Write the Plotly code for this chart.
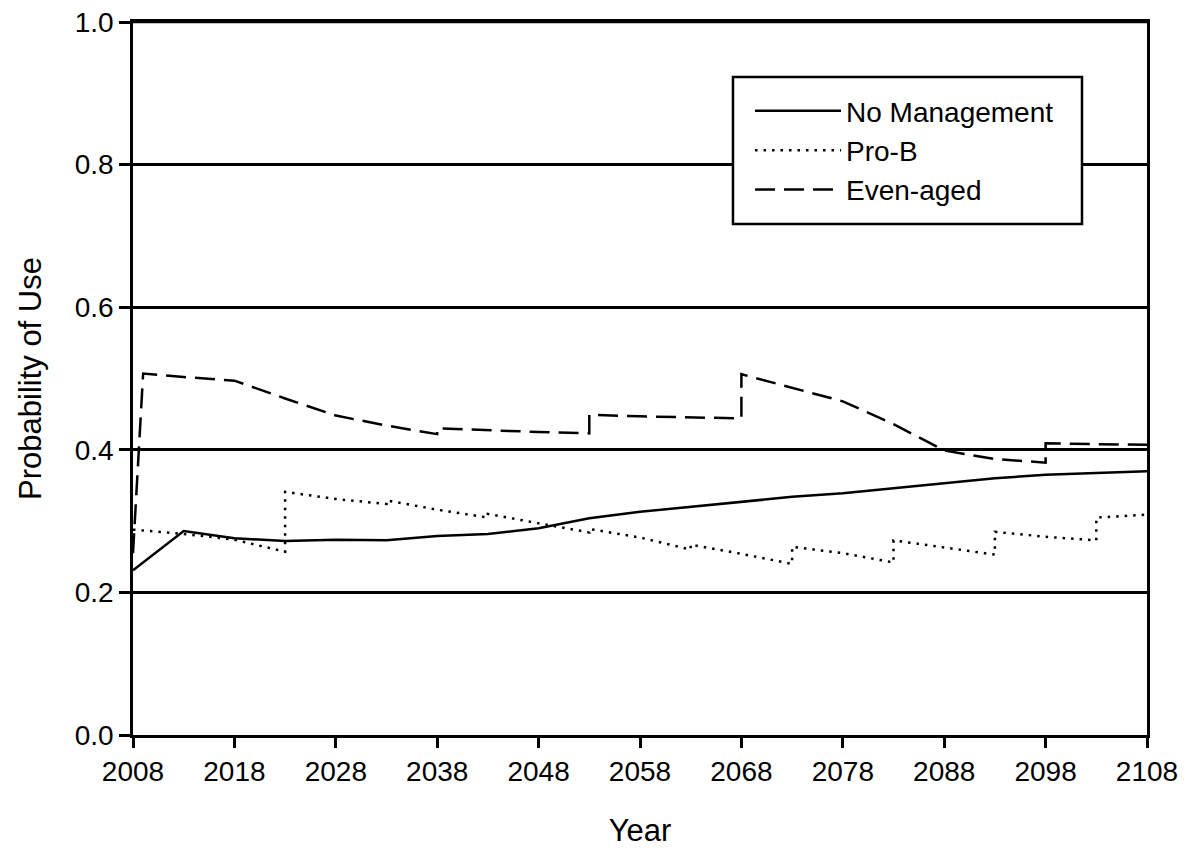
import plotly.graph_objects as go

# --- data ---
nm_years = [2008, 2013, 2018, 2023, 2028, 2033, 2038, 2043, 2048, 2053, 2058,
            2063, 2068, 2073, 2078, 2083, 2088, 2093, 2098, 2103, 2108]
nm_vals = [0.231, 0.286, 0.276, 0.272, 0.274, 0.273, 0.279, 0.282, 0.290, 0.304, 0.313,
           0.320, 0.327, 0.334, 0.339, 0.346, 0.354, 0.360, 0.365, 0.368, 0.370]

pb_years = [2008, 2013, 2018, 2023, 2023, 2028, 2033, 2033, 2038, 2043, 2043, 2048,
            2053, 2053, 2058, 2063, 2063, 2068, 2073, 2073, 2078, 2083, 2083, 2088,
            2093, 2093, 2098, 2103, 2103, 2108]
pb_vals = [0.288, 0.282, 0.274, 0.257, 0.341, 0.331, 0.324, 0.329, 0.316, 0.305, 0.310, 0.297,
           0.284, 0.289, 0.277, 0.260, 0.267, 0.254, 0.240, 0.264, 0.255, 0.242, 0.273, 0.263,
           0.253, 0.285, 0.278, 0.273, 0.305, 0.309]

ea_years = [2008, 2009, 2013, 2018, 2023, 2028, 2033, 2038, 2038, 2043, 2048, 2053, 2053,
            2058, 2063, 2068, 2068, 2073, 2078, 2083, 2088, 2093, 2098, 2098, 2103, 2108]
ea_vals = [0.255, 0.507, 0.502, 0.497, 0.472, 0.448, 0.434, 0.422, 0.430, 0.427, 0.425, 0.423, 0.449,
           0.447, 0.446, 0.444, 0.506, 0.487, 0.468, 0.436, 0.399, 0.387, 0.382, 0.409, 0.408, 0.407]

x_ticks = list(range(2008, 2109, 10))
y_ticks = [0.0, 0.2, 0.4, 0.6, 0.8, 1.0]

FONT = "Liberation Sans, Arial, sans-serif"

fig = go.Figure()
fig.add_trace(go.Scatter(x=nm_years, y=nm_vals, mode="lines", name="No Management",
                         line=dict(color="black", width=2.5)))
fig.add_trace(go.Scatter(x=pb_years, y=pb_vals, mode="lines", name="Pro-B",
                         line=dict(color="black", width=2.5, dash="2.5px,6px")))
fig.add_trace(go.Scatter(x=ea_years, y=ea_vals, mode="lines", name="Even-aged",
                         line=dict(color="black", width=2.5, dash="20px,9px")))

# top frame line at y = 1.0
fig.add_shape(type="line", xref="paper", yref="y", x0=0, x1=1, y0=1.0, y1=1.0,
              line=dict(color="black", width=2.5), layer="above")

# legend frame (white box covering grid line)
fig.add_shape(type="rect", xref="paper", yref="paper",
              x0=0.5917, x1=0.9359, y0=0.7167, y1=0.9229,
              fillcolor="white", line=dict(color="black", width=2.5), layer="above")

fig.update_layout(
    width=1178, height=846,
    margin=dict(l=125, r=39, t=14, b=119, autoexpand=False),
    paper_bgcolor="white", plot_bgcolor="white",
    font=dict(family=FONT, size=28, color="black"),
    showlegend=True,
    legend=dict(
        x=0.6085, y=0.9102, xanchor="left", yanchor="top",
        bgcolor="rgba(0,0,0,0)", borderwidth=0,
        font=dict(family=FONT, size=28, color="black"),
        itemwidth=86, tracegroupgap=0,
    ),
    xaxis=dict(
        range=[2008, 2108], tickmode="array", tickvals=x_ticks,
        ticks="outside", ticklen=10, tickwidth=2.5, tickcolor="black",
        showline=True, linecolor="black", linewidth=2.5, mirror=True,
        showgrid=False, zeroline=False, automargin=False, ticklabeloverflow="allow",
        title=dict(text="Year", font=dict(size=31), standoff=33),
    ),
    yaxis=dict(
        range=[0, 1.0], tickmode="array", tickvals=y_ticks, tickformat=".1f",
        ticks="outside", ticklen=11, tickwidth=2.5, tickcolor="black",
        showline=True, linecolor="black", linewidth=2.5, mirror=True,
        showgrid=True, gridcolor="black", gridwidth=2.5, zeroline=False, automargin=False,
        ticklabeloverflow="allow",
        title=dict(text="Probability of Use", font=dict(size=31), standoff=24),
    ),
)

fig.write_html("out.html")
